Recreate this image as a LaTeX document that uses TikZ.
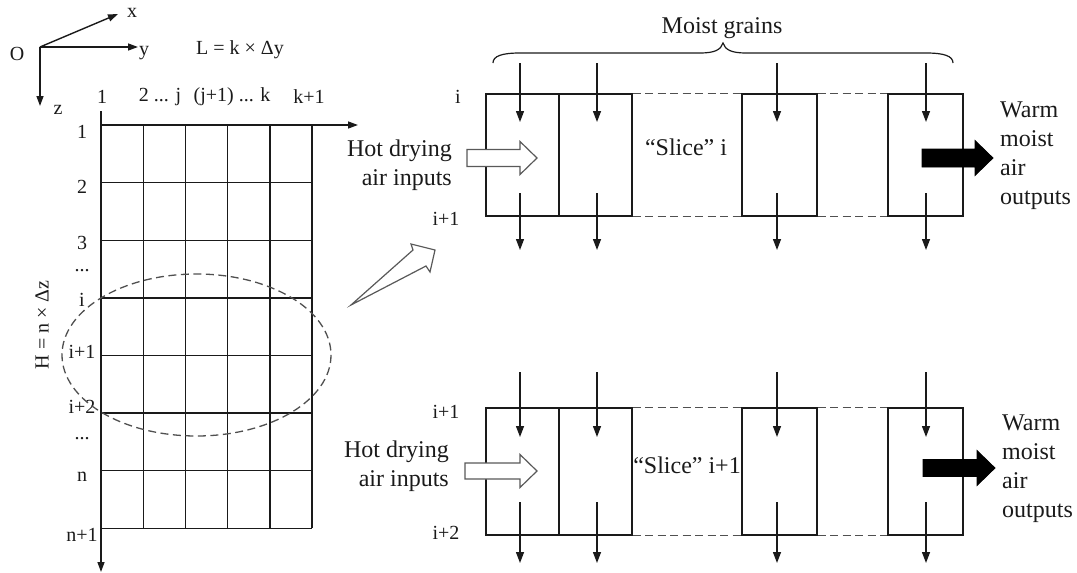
\documentclass[tikz,border=0pt]{standalone}
\usepackage{fontspec}
\setmainfont{Liberation Serif}
\usetikzlibrary{arrows.meta}
\definecolor{ink}{HTML}{1A1A1A}
\definecolor{dashgray}{HTML}{505050}
\newcommand\rowdots{...}

\begin{document}
\begin{tikzpicture}[x=1pt,y=-1pt,
  big/.style={font=\fontsize{24}{29}\selectfont,text=ink,inner sep=0pt},
  small/.style={font=\fontsize{20}{22}\selectfont,text=ink,inner sep=0pt},
  line/.style={draw=ink,line width=1.4pt},
  axis/.style={line,-{Triangle[length=10pt,width=7pt]}},
  grain/.style={draw=ink,line width=1.3pt,-{Triangle[length=11pt,width=8pt]}},
  cell/.style={rectangle,draw=ink,line width=1.4pt,inner sep=0pt,minimum width=73pt},
  guide/.style={draw=dashgray,line width=1.3pt,dash pattern=on 8pt off 4.5pt},
  hollow/.style={draw=black!65,line width=1.2pt,fill=white,line join=miter},
  outflow/.style={draw=black,fill=black,line width=0.8pt},
]
  \useasboundingbox (0,0) rectangle (1077,573);

  % coordinate axes
  \coordinate (O) at (40,47);
  \coordinate (xend) at (118,14);
  \coordinate (yend) at (138,47);
  \coordinate (zend) at (40,106);
  \draw[axis] (O) -- (xend);
  \draw[axis] (O) -- (yend);
  \draw[axis] (O) -- (zend);
  \node[small] (olab) at (17,54) {O};
  \node[small] (xlab) at (132,13) {x};
  \node[small] (ylab) at (144,53) {y};
  \node[small] (zlab) at (58,110) {z};
  \node[small] (Llab) at (240,50) {L = k × Δy};

  % column labels
  \node[small] (col1) at (102,97) {1};
  \node[small] (col2) at (160,97) {2 ... j};
  \node[small] (col3) at (232,97) {(j+1) ... k};
  \node[small] (col4) at (309,97) {k+1};

  % mesh
  \coordinate (g0) at (101,125);
  \coordinate (gy) at (358,125);
  \coordinate (gtop) at (101,111);
  \coordinate (gz) at (101,572);
  \draw[axis] (g0) -- (gy);
  \draw[axis] (gtop) -- (gz);
  \foreach \c in {1,...,5}
    \draw[line] (101+42.2*\c,125) -- (101+42.2*\c,528.2);
  \foreach \r in {1,...,7}
    \draw[line] (101,125+57.6*\r) -- (312,125+57.6*\r);
  \foreach \y/\t [count=\k] in {132/1,187/2,243/3,271/\rowdots,300/i,352/i+1,407/i+2,439/\rowdots,477/n,535/n+1}
    \node[small] (row\k) at (82,\y) {\t};
  \node[small,rotate=90] (Hlab) at (42,325) {H = n × Δz};
  \draw[guide] (196.5,355) ellipse [x radius=134.5, y radius=81];

  % pointer to the slices
  \coordinate (ptail) at (351,305);
  \draw[hollow] (ptail) -- (413,250) -- (411,244) -- (435,250) -- (430,272) -- (426,266) -- cycle;

  % moist grains brace
  \node[big] (grains) at (722,28) {Moist grains};
  \draw[line,line width=1.2pt] (493,63) .. controls (493,56) and (502,53) .. (520,53) -- (700,53)
    .. controls (714,53) and (721,50) .. (723,43) .. controls (725,50) and (732,53) .. (746,53)
    -- (926,53) .. controls (944,53) and (953,56) .. (953,63);

  % slice i
  \foreach \x/\w [count=\k] in {522.5/73,595.5/73,779.5/75,925.5/75}
    \node[cell,minimum width=\w pt,minimum height=122pt] (a\k) at (\x,155) {};
  \draw[guide] (a2.north east) -- (a3.north west);
  \draw[guide] (a3.north east) -- (a4.north west);
  \draw[guide] (a2.south east) -- (a3.south west);
  \draw[guide] (a3.south east) -- (a4.south west);
  \foreach \x [count=\k] in {520,597,777,926} {
    \coordinate (ain\k) at (\x,63);
    \coordinate (aout\k) at (\x,193);
    \draw[grain] (ain\k) -- (\x,122);
    \draw[grain] (aout\k) -- (\x,250);
  }
  \node[small] (ai) at (458,97) {i};
  \node[small] (ai1) at (446,219) {i+1};
  \node[big,align=right,anchor=east] (hot1) at (452,165) {Hot drying\\air inputs};
  \node[big] (slice1) at (686,147) {“Slice” i};
  \coordinate (hin1) at (467,158);
  \draw[hollow] (hin1) ++(0,-8.5) -- ++(53,0) -- ++(0,-8) -- (537,158) -- (520,174.5)
    -- (520,166.5) -- (467,166.5) -- cycle;
  \coordinate (hout1) at (922,158);
  \draw[outflow] (hout1) ++(0,-9) -- ++(53,0) -- ++(0,-8.5) -- (993,158) -- (975,175.5)
    -- (975,167) -- (922,167) -- cycle;
  \node[big,align=left,anchor=west] (warm1) at (1000,156) {Warm\\moist\\air\\outputs};

  % slice i+1
  \foreach \x/\w [count=\k] in {522.5/73,595.5/73,779.5/75,925.5/75}
    \node[cell,minimum width=\w pt,minimum height=127pt] (b\k) at (\x,471.5) {};
  \draw[guide] (b2.north east) -- (b3.north west);
  \draw[guide] (b3.north east) -- (b4.north west);
  \draw[guide] (b2.south east) -- (b3.south west);
  \draw[guide] (b3.south east) -- (b4.south west);
  \foreach \x [count=\k] in {520,597,777,926} {
    \coordinate (bin\k) at (\x,372);
    \coordinate (bout\k) at (\x,502);
    \draw[grain] (bin\k) -- (\x,437);
    \draw[grain] (bout\k) -- (\x,563);
  }
  \node[small] (bi1) at (446,412) {i+1};
  \node[small] (bi2) at (446,533) {i+2};
  \node[big,align=right,anchor=east] (hot2) at (449,466) {Hot drying\\air inputs};
  \node[big] (slice2) at (687,465) {“Slice” i+1};
  \coordinate (hin2) at (465,471);
  \draw[hollow] (hin2) ++(0,-8) -- ++(55,0) -- ++(0,-8.5) -- (537,471) -- (520,487.5)
    -- (520,479) -- (465,479) -- cycle;
  \coordinate (hout2) at (923,468);
  \draw[outflow] (hout2) ++(0,-8.5) -- ++(54,0) -- ++(0,-9) -- (995,468) -- (977,485.5)
    -- (977,476.5) -- (923,476.5) -- cycle;
  \node[big,align=left,anchor=west] (warm2) at (1002,469) {Warm\\moist\\air\\outputs};
\end{tikzpicture}
\end{document}
